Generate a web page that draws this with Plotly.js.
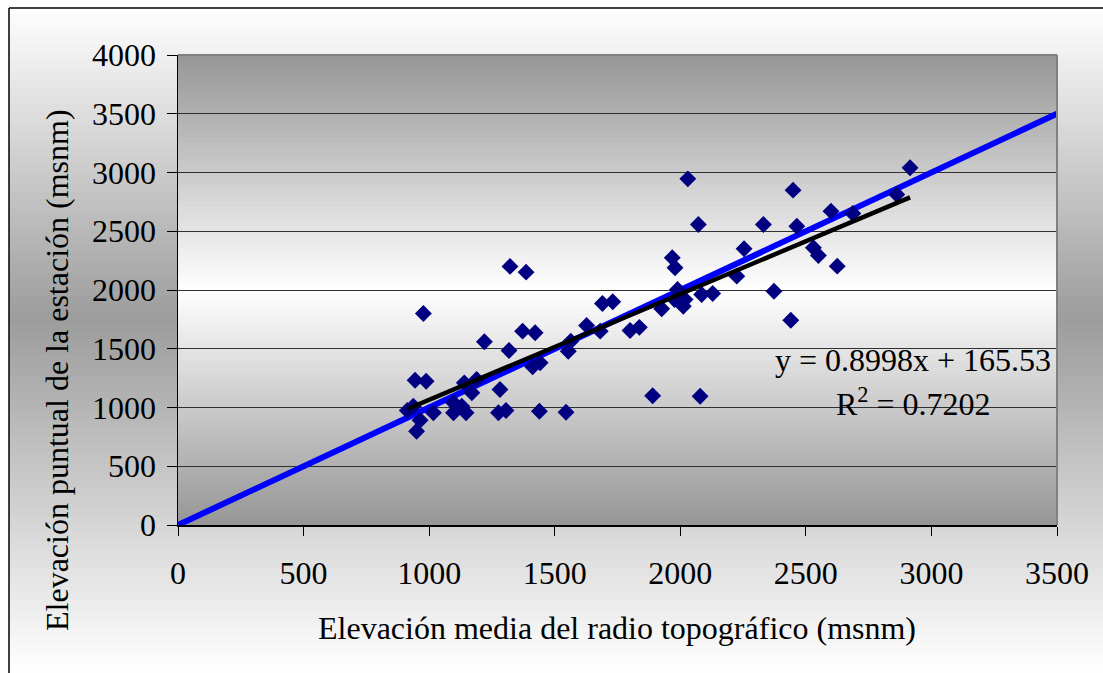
<!DOCTYPE html>
<html><head><meta charset="utf-8">
<script src="https://cdn.plot.ly/plotly-3.0.1.min.js"></script>
<style>html,body{margin:0;padding:0;background:#fff}#chart{width:1103px;height:673px}</style>
</head><body><div id="chart"></div>
<script>
// ---- data ----
const radioElev = [913, 937, 944, 988, 964, 950, 977, 1017, 1097, 1097, 1130, 1147, 1140, 1189, 1170,
  1220, 1282, 1276, 1306, 1318, 1322, 1386, 1372, 1422, 1412, 1442, 1439, 1545, 1554, 1564,
  1627, 1681, 1690, 1731, 1800, 1837, 1890, 1926, 1968, 1979, 1989, 1977, 2019, 2012, 2030,
  2072, 2079, 2085, 2129, 2225, 2254, 2331, 2373, 2440, 2449, 2464, 2530, 2550, 2600, 2625,
  2687, 2862, 2915];
const estacionElev = [974, 1011, 1232, 1224, 892, 798, 1800, 955, 1040, 955, 1011, 955, 1210, 1238, 1125,
  1559, 1153, 955, 974, 1485, 2201, 2152, 1650, 1636, 1346, 1380, 968, 960, 1479, 1564,
  1698, 1650, 1885, 1900, 1655, 1682, 1100, 1840, 2274, 2189, 2004, 1919, 1919, 1862, 2946,
  2557, 1096, 1962, 1970, 2118, 2351, 2557, 1990, 1743, 2850, 2543, 2359, 2294, 2671, 2203,
  2651, 2813, 3040];
const lineX = [0, 3500];
const lineY = [0, 3500];
const trendX = [913, 2915];
const trendY = [987, 2788];
const eqText = 'y = 0.8998x + 165.53';
const r2Text = 'R<sup>2</sup> = 0.7202';
const xTicks = [0, 500, 1000, 1500, 2000, 2500, 3000, 3500];
const yTicks = [0, 500, 1000, 1500, 2000, 2500, 3000, 3500, 4000];
const xTitle = 'Elevación media del radio topográfico (msnm)';
const yTitle = 'Elevación puntual de la estación (msnm)';

// ---- layout geometry ----
const W = 1103, H = 673, L = 178, R = 46, T = 55, B = 148;
const pw = W - L - R, ph = H - T - B;
const fx = p => (p - L) / pw;
const fy = p => (H - B - p) / ph;
const FONT = 'Liberation Serif, Times New Roman, serif';
const FS = 32;
function gray(v) { v = Math.round(Math.max(0, Math.min(255, v))); const h = v.toString(16).padStart(2, '0'); return '#' + h + h + h; }

const shapes = [];
// outer chart-area gradient: white top, gray middle, white bottom
(function () {
  const top = 8, mid = 320, bot = 673, dark = 156, N = 90;
  for (let i = 0; i < N; i++) {
    const a = top + (bot - top) * i / N, b = top + (bot - top) * (i + 1) / N, c = (a + b) / 2;
    const t = c < mid ? (mid - c) / (mid - top) : (c - mid) / (bot - mid);
    shapes.push({type: 'rect', xref: 'paper', yref: 'paper', layer: 'below',
      x0: fx(9), x1: fx(W + 5), y0: fy(a - 0.6), y1: fy(b + 0.6),
      fillcolor: gray(dark + (255 - dark) * t), line: {width: 0}});
  }
})();
// plot-area gradient: gray top, white middle, gray bottom
(function () {
  const top = T, bot = H - B, mid = (top + bot) / 2, dark = 150, N = 80;
  for (let i = 0; i < N; i++) {
    const a = top + (bot - top) * i / N, b = top + (bot - top) * (i + 1) / N, c = (a + b) / 2;
    const t = Math.abs(c - mid) / (mid - top);
    shapes.push({type: 'rect', xref: 'paper', yref: 'paper', layer: 'below',
      x0: 0, x1: 1, y0: fy(Math.min(bot, b + 0.6)), y1: fy(Math.max(top, a - 0.6)),
      fillcolor: gray(255 - (255 - dark) * t), line: {width: 0}});
  }
})();
// outer border (left and top visible)
shapes.push({type: 'line', xref: 'paper', yref: 'paper', x0: fx(9), x1: fx(9), y0: fy(8), y1: fy(H + 5), line: {color: '#000', width: 1.5}});
shapes.push({type: 'line', xref: 'paper', yref: 'paper', x0: fx(9), x1: fx(W + 5), y0: fy(8), y1: fy(8), line: {color: '#000', width: 1.5}});
// plot frame top/right
shapes.push({type: 'line', xref: 'paper', yref: 'paper', x0: 0, x1: 1, y0: 1, y1: 1, line: {color: '#808080', width: 2}});
shapes.push({type: 'line', xref: 'paper', yref: 'paper', x0: 1, x1: 1, y0: 0, y1: 1, line: {color: '#808080', width: 2}});

const traces = [
  {x: lineX, y: lineY, type: 'scatter', mode: 'lines', line: {color: '#0000FF', width: 6}, hoverinfo: 'skip'},
  {x: radioElev, y: estacionElev, type: 'scatter', mode: 'markers',
   marker: {symbol: 'diamond', size: 13, color: '#000080', line: {width: 0}}},
  {x: trendX, y: trendY, type: 'scatter', mode: 'lines', line: {color: '#000000', width: 4.5}, hoverinfo: 'skip'}
];

const tickfont = {family: FONT, size: FS, color: '#000'};
const annFont = {family: FONT, size: FS, color: '#000'};
const layout = {
  width: W, height: H,
  margin: {l: L, r: R, t: T, b: B, pad: 0},
  paper_bgcolor: '#ffffff', plot_bgcolor: 'rgba(0,0,0,0)',
  showlegend: false,
  font: {family: FONT, size: FS, color: '#000'},
  xaxis: {range: [0, 3500], tickvals: xTicks, ticktext: xTicks.map(String), ticks: 'outside', ticklen: 9,
    tickwidth: 1, tickcolor: '#000', showline: true, linecolor: '#000', linewidth: 1.5, ticklabelstandoff: 10,
    showgrid: false, zeroline: false, tickfont: tickfont, fixedrange: true},
  yaxis: {range: [0, 4000], tickvals: yTicks, ticktext: yTicks.map(String), ticks: 'outside', ticklen: 10,
    tickwidth: 1, tickcolor: '#000', showline: true, linecolor: '#000', linewidth: 1.5, ticklabelstandoff: 4,
    showgrid: true, gridcolor: '#303030', gridwidth: 1, zeroline: false, tickfont: tickfont, fixedrange: true},
  shapes: shapes,
  annotations: [
    {text: xTitle, xref: 'paper', yref: 'paper', x: fx(617), y: fy(628), xanchor: 'center', yanchor: 'middle', showarrow: false, font: annFont},
    {text: yTitle, xref: 'paper', yref: 'paper', x: fx(57), y: fy(370), xanchor: 'center', yanchor: 'middle', textangle: -90, showarrow: false, font: annFont},
    {text: eqText, xref: 'paper', yref: 'paper', x: fx(912.5), y: fy(360), xanchor: 'center', yanchor: 'middle', showarrow: false, font: annFont},
    {text: r2Text, xref: 'paper', yref: 'paper', x: fx(913.5), y: fy(402), xanchor: 'center', yanchor: 'middle', showarrow: false, font: annFont}
  ]
};
Plotly.newPlot('chart', traces, layout, {displayModeBar: false, staticPlot: true});
</script>
</body></html>
